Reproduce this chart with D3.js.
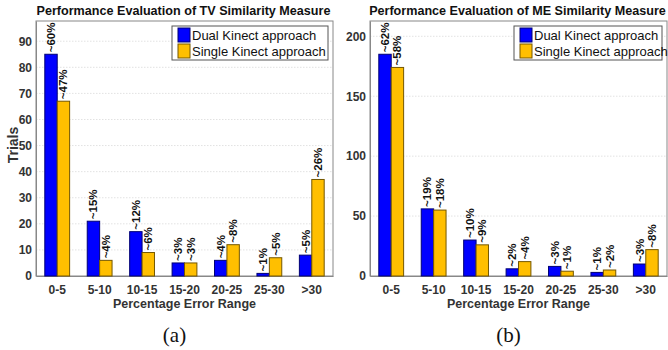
<!DOCTYPE html>
<html>
<head>
<meta charset="utf-8">
<script src="https://cdn.jsdelivr.net/npm/d3@7"></script>
<style>
  body { margin: 0; background: #fff; }
  svg { display: block; }
</style>
</head>
<body>
<div id="container"></div>
<script>
const ranges = ["0-5", "5-10", "10-15", "15-20", "20-25", "25-30", ">30"]
const series = ["Dual Kinect approach", "Single Kinect approach"]
const colors = ["#0000ff", "#ffbf00"]

// panel (a) TV similarity
const tvDual = [85, 21, 17, 5, 6, 1, 8]
const tvSingle = [67, 6, 9, 5, 12, 7, 37]
const tvDualPct = ["~60%", "~15%", "~12%", "~3%", "~4%", "~1%", "~5%"]
const tvSinglePct = ["~47%", "~4%", "~6%", "~3%", "~8%", "~5%", "~26%"]
const tvTicks = [0, 10, 20, 30, 40, 50, 60, 70, 80, 90]

// panel (b) ME similarity
const meDual = [185, 56, 30, 6, 8, 3, 10]
const meSingle = [174, 55, 26, 12, 4, 5, 22]
const meDualPct = ["~62%", "~19%", "~10%", "~2%", "~3%", "~1%", "~3%"]
const meSinglePct = ["~58%", "~18%", "~9%", "~4%", "~1%", "~2%", "~8%"]
const meTicks = [0, 50, 100, 150, 200]

const FONT = "Liberation Sans, Arial, sans-serif"
const W = 668, H = 350
const svg = d3.select("#container").append("svg")
  .attr("width", W).attr("height", H)
  .attr("font-family", FONT)

let drawPanel = (opt) => {
  const {left, right, title, dual, single, dualPct, singlePct, ticks, caption, ylabel, legendX} = opt
  const top = 21, bottom = 276

  const x = d3.scaleBand().domain(ranges).range([left, right]).paddingInner(0).paddingOuter(0)
  const xs = d3.scaleBand().domain([0, 1]).range([0, x.bandwidth()]).paddingInner(0).paddingOuter(0.71)
  const ymax = d3.max(dual.concat(single)) * 1.15
  const y = d3.scaleLinear().domain([0, ymax]).range([bottom, top])

  const g = svg.append("g").attr("font-family", FONT)

  // grid
  g.selectAll(".grid").data(ticks.filter(t => t > 0)).enter().append("line")
    .attr("x1", left).attr("x2", right)
    .attr("y1", d => y(d)).attr("y2", d => y(d))
    .attr("stroke", "#e2e2e2").attr("stroke-dasharray", "1.5,1.5")

  // box
  g.append("rect").attr("x", left).attr("y", top)
    .attr("width", right - left).attr("height", bottom - top)
    .attr("fill", "none").attr("stroke", "#888").attr("stroke-width", 1)

  const yAxis = d3.axisLeft(y).tickValues(ticks).tickSize(0).tickPadding(4)
  const ya = g.append("g").attr("transform", `translate(${left},0)`).call(yAxis)
  ya.attr("font-family", FONT)
  ya.select(".domain").attr("stroke", "#888")
  ya.selectAll("text").attr("font-size", 12).attr("font-weight", "bold").attr("fill", "#333")

  const xAxis = d3.axisBottom(x).tickSize(0).tickPadding(9)
  const xa = g.append("g").attr("transform", `translate(0,${bottom})`).call(xAxis)
  xa.attr("font-family", FONT)
  xa.select(".domain").attr("stroke", "#888")
  xa.selectAll("text").attr("font-size", 12).attr("font-weight", "bold").attr("fill", "#333")

  const rows = ranges.map((r, i) => ({r, v: [dual[i], single[i]], p: [dualPct[i], singlePct[i]]}))
  const grp = g.selectAll(".grp").data(rows).enter().append("g")
    .attr("transform", d => `translate(${x(d.r)},0)`)

  grp.selectAll("rect").data(d => d.v.map((v, k) => ({v, k}))).enter().append("rect")
    .attr("x", d => xs(d.k)).attr("width", xs.bandwidth())
    .attr("y", d => y(d.v)).attr("height", d => y(0) - y(d.v))
    .attr("fill", d => colors[d.k])
    .attr("stroke", d => d3.color(colors[d.k]).darker(2.2))
    .attr("stroke-width", 1)

  grp.selectAll(".lbl").data(d => d.v.map((v, k) => ({v, k, p: d.p[k]}))).enter().append("text")
    .attr("transform", d => `translate(${xs(d.k) + xs.bandwidth() / 2 + 4},${y(d.v) - 2}) rotate(-90)`)
    .attr("font-size", 11.5).attr("font-weight", "bold").attr("fill", "#111")
    .text(d => d.p)

  // title
  g.append("text").attr("x", (left + right) / 2 - 1).attr("y", 15)
    .attr("text-anchor", "middle").attr("font-size", 12.6).attr("font-weight", "bold")
    .attr("fill", "#111").text(title)

  g.append("text").attr("x", (left + right) / 2).attr("y", 308)
    .attr("text-anchor", "middle").attr("font-size", 12.5).attr("font-weight", "bold")
    .attr("fill", "#333").text("Percentage Error Range")

  if (ylabel) {
    g.append("text").attr("transform", `translate(18,145) rotate(-90)`)
      .attr("text-anchor", "middle").attr("font-size", 14).attr("font-weight", "bold")
      .attr("fill", "#333").text(ylabel)
  }

  g.append("text").attr("x", (left + right) / 2 - 10).attr("y", 342)
    .attr("text-anchor", "middle").attr("font-size", 21)
    .attr("font-family", "Liberation Serif, Times New Roman, serif")
    .attr("fill", "#111").text(caption)

  // legend
  const lg = g.append("g").attr("transform", `translate(${legendX},26)`)
  lg.append("rect").attr("width", right - 5 - legendX).attr("height", 34)
    .attr("fill", "#fff").attr("stroke", "#555")
  series.forEach((s, i) => {
    lg.append("rect").attr("x", 6).attr("y", 2 + i * 16).attr("width", 12).attr("height", 14)
      .attr("fill", colors[i]).attr("stroke", d3.color(colors[i]).darker(2.2))
    lg.append("text").attr("x", 20).attr("y", 13.5 + i * 16)
      .attr("font-size", 13).attr("fill", "#111").text(s)
  })
}

drawPanel({left: 36, right: 333, title: "Performance Evaluation of TV Similarity Measure",
  dual: tvDual, single: tvSingle, dualPct: tvDualPct, singlePct: tvSinglePct,
  ticks: tvTicks, caption: "(a)", ylabel: "Trials", legendX: 172})

drawPanel({left: 370, right: 667, title: "Performance Evaluation of ME Similarity Measure",
  dual: meDual, single: meSingle, dualPct: meDualPct, singlePct: meSinglePct,
  ticks: meTicks, caption: "(b)", ylabel: null, legendX: 514})
</script>
</body>
</html>
